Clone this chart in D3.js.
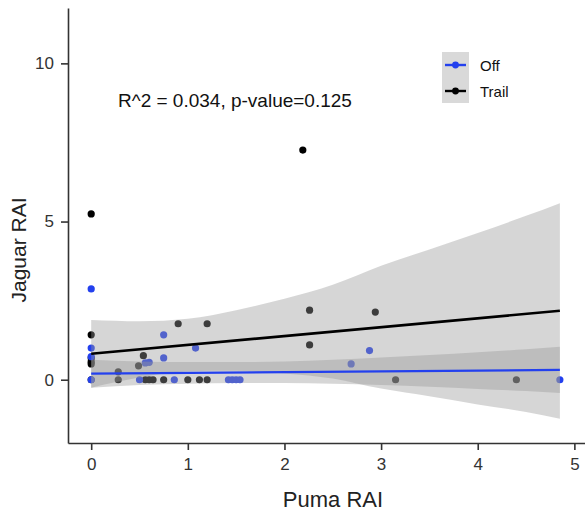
<!DOCTYPE html>
<html>
<head>
<meta charset="utf-8">
<title>Jaguar vs Puma RAI</title>
<script src="https://d3js.org/d3.v7.min.js"></script>
<style type="text/css">
    body { margin: 0; background: #fff; }
    svg text { font-family: "Liberation Sans", Arial, sans-serif; }
</style>
</head>
<body>
<div id="chart"></div>
<script type="text/javascript">
    // points
    var trailX = [0, 2.19, 0, 0, 0, 0, 0, 0.28, 0.28, 0.54, 0.49, 0.9, 1.2, 2.26, 2.26, 2.94, 3.15, 4.4,
                  0.56, 0.6, 0.64, 0.75, 1.0, 1.12, 1.2];
    var trailY = [5.24, 7.26, 1.42, 0.57, 0.69, 0.5, 0, 0.25, 0, 0.76, 0.44, 1.77, 1.77, 2.2, 1.1, 2.14, 0, 0,
                  0, 0, 0, 0, 0, 0, 0];
    var offX = [0, 0, 0, 0, 0.75, 0.75, 1.08, 0.56, 0.6, 0.5, 0.86, 1.42, 1.46, 1.5, 1.54, 2.88, 2.69, 4.85];
    var offY = [2.87, 1.0, 0.73, 0, 1.42, 0.69, 1.0, 0.53, 0.55, 0, 0, 0, 0, 0, 0, 0.92, 0.5, 0];

    // fitted lines and confidence bands
    var fitX = [0, 4.85];
    var trailFit = [0.82, 2.18];
    var offFit = [0.19, 0.31];
    var bandX = [0, 0.5, 1, 1.5, 2, 2.5, 3, 3.5, 4, 4.5, 4.85];
    var trailUpper = [1.89, 1.85, 1.93, 2.2, 2.56, 3.0, 3.6, 4.12, 4.64, 5.18, 5.58];
    var trailLower = [-0.25, 0.07, 0.27, 0.28, 0.2, 0.04, -0.28, -0.52, -0.78, -1.02, -1.23];
    var offUpper = [0.63, 0.58, 0.56, 0.56, 0.58, 0.63, 0.7, 0.78, 0.87, 0.96, 1.04];
    var offLower = [-0.25, -0.17, -0.13, -0.1, -0.1, -0.13, -0.17, -0.22, -0.29, -0.36, -0.42];

    var xTicks = [0, 1, 2, 3, 4, 5];
    var yTicks = [0, 5, 10];
    var groups = ['Off', 'Trail'];

    var width = 585, height = 529;
    var blue = '#2340ee';

    var svg = d3.select('#chart').append('svg')
        .attr('width', width)
        .attr('height', height);

    var x = d3.scaleLinear().domain([-0.24, 5.11]).range([68, 585]);
    var y = d3.scaleLinear().domain([-2, 11.75]).range([443, 8]);

    // points first, the bands sit on top of them
    var trailPts = trailX.map(function(d, i) { return [d, trailY[i]]; });
    var offPts = offX.map(function(d, i) { return [d, offY[i]]; });

    svg.append('g').selectAll('circle')
        .data(trailPts)
        .enter().append('circle')
            .attr('cx', function(d) { return x(d[0]); })
            .attr('cy', function(d) { return y(d[1]); })
            .attr('r', 3.6)
            .style('fill', '#000');

    svg.append('g').selectAll('circle')
        .data(offPts)
        .enter().append('circle')
            .attr('cx', function(d) { return x(d[0]); })
            .attr('cy', function(d) { return y(d[1]); })
            .attr('r', 3.6)
            .style('fill', blue);

    // confidence ribbons
    var area = d3.area()
        .x(function(d) { return x(d.x); })
        .y0(function(d) { return y(d.lo); })
        .y1(function(d) { return y(d.hi); })
        .curve(d3.curveMonotoneX);

    function band(lo, hi) {
        return bandX.map(function(d, i) { return {x: d, lo: lo[i], hi: hi[i]}; });
    }

    svg.append('path')
        .datum(band(offLower, offUpper))
        .attr('d', area)
        .style('fill', '#999')
        .style('fill-opacity', 0.4);

    svg.append('path')
        .datum(band(trailLower, trailUpper))
        .attr('d', area)
        .style('fill', '#999')
        .style('fill-opacity', 0.4);

    // fit lines
    var line = d3.line()
        .x(function(d) { return x(d[0]); })
        .y(function(d) { return y(d[1]); });

    svg.append('path')
        .datum(fitX.map(function(d, i) { return [d, offFit[i]]; }))
        .attr('d', line)
        .style('fill', 'none')
        .style('stroke', blue)
        .style('stroke-width', 2.2);

    svg.append('path')
        .datum(fitX.map(function(d, i) { return [d, trailFit[i]]; }))
        .attr('d', line)
        .style('fill', 'none')
        .style('stroke', '#000')
        .style('stroke-width', 2.6);

    // axes
    var xAxis = svg.append('g')
        .attr('transform', 'translate(0,443)')
        .call(d3.axisBottom(x).tickValues(xTicks).tickFormat(d3.format('d'))
            .tickSize(7).tickPadding(8).tickSizeOuter(0));
    var yAxis = svg.append('g')
        .attr('transform', 'translate(68,0)')
        .call(d3.axisLeft(y).tickValues(yTicks).tickFormat(d3.format('d'))
            .tickSize(7).tickPadding(7).tickSizeOuter(0));

    [xAxis, yAxis].forEach(function(a) {
        a.select('.domain').style('stroke', '#333').style('stroke-width', 1.6);
        a.selectAll('.tick line').style('stroke', '#333').style('stroke-width', 1.6);
        a.selectAll('.tick text')
            .style('font-size', '17px')
            .style('fill', '#333');
    });

    // axis titles
    svg.append('text')
        .attr('x', 333)
        .attr('y', 507)
        .attr('text-anchor', 'middle')
        .style('font-size', '22px')
        .style('fill', '#222')
        .text('Puma RAI');

    svg.append('text')
        .attr('transform', 'translate(26,250) rotate(-90)')
        .attr('text-anchor', 'middle')
        .style('font-size', '21px')
        .style('fill', '#222')
        .text('Jaguar RAI');

    // annotation
    svg.append('text')
        .attr('x', 118)
        .attr('y', 107)
        .style('font-size', '19px')
        .style('fill', '#111')
        .text('R^2 = 0.034, p-value=0.125');

    // legend
    var legend = svg.append('g').attr('transform', 'translate(442,52)');
    legend.append('rect')
        .attr('width', 27)
        .attr('height', 51)
        .style('fill', '#d9d9d9');

    var keys = legend.selectAll('g.key')
        .data(groups)
        .enter().append('g')
            .attr('class', 'key')
            .attr('transform', function(d, i) { return 'translate(0,' + (13 + i * 26) + ')'; });

    keys.append('line')
        .attr('x1', 3).attr('x2', 24)
        .style('stroke', function(d) { return d === 'Off' ? blue : '#000'; })
        .style('stroke-width', 2.4);
    keys.append('circle')
        .attr('cx', 13.5)
        .attr('r', 3.4)
        .style('fill', function(d) { return d === 'Off' ? blue : '#000'; });
    keys.append('text')
        .attr('x', 38)
        .attr('y', 5.5)
        .style('font-size', '15px')
        .style('fill', '#111')
        .text(function(d) { return d; });
</script>
</body>
</html>
